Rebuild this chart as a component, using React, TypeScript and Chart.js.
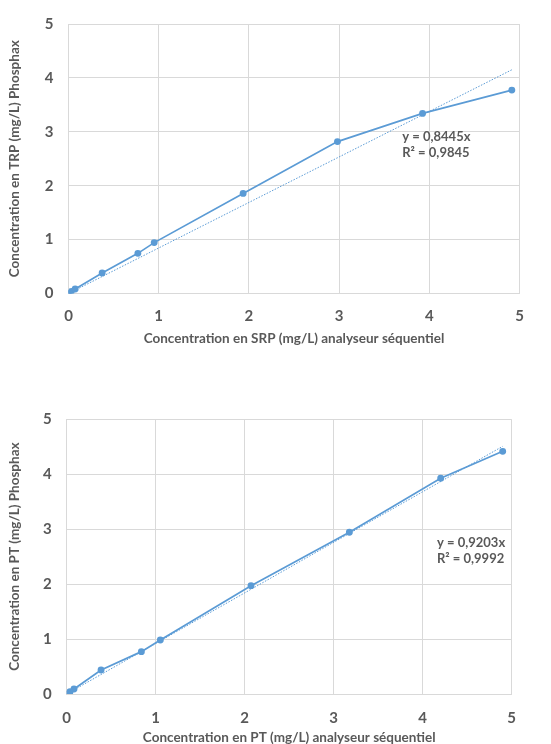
import React, { useEffect, useRef } from 'react';
import { Chart, registerables } from 'chart.js';
Chart.register(...registerables);

// Top chart: SRP (séquentiel) vs TRP (Phosphax)
const srpX = [0, 0.03, 0.074, 0.373, 0.769, 0.95, 1.936, 2.982, 3.925, 4.915];
const trpY = [0, 0.036, 0.084, 0.379, 0.745, 0.944, 1.857, 2.818, 3.341, 3.774];
const slopeTop = 0.8445;
const eqTop = ['y = 0,8445x', 'R² = 0,9845'];
const eqTopPos = [3.7, 2.91];

// Bottom chart: PT (séquentiel) vs PT (Phosphax)
const ptX = [0, 0.037, 0.082, 0.386, 0.839, 1.052, 2.071, 3.176, 4.202, 4.899];
const ptY = [0, 0.042, 0.091, 0.437, 0.771, 0.983, 1.972, 2.943, 3.926, 4.417];
const slopeBottom = 0.9203;
const eqBottom = ['y = 0,9203x', 'R² = 0,9992'];
const eqBottomPos = [4.16, 2.75];

const tickValues = [0, 1, 2, 3, 4, 5];

const BLUE = '#5B9BD5';
const TEXT = '#595959';
const GRID = '#d9d9d9';
const FONT = 'Lato, "Open Sans", sans-serif';

type Props = {
  xs: number[];
  ys: number[];
  slope: number;
  eq: string[];
  eqPos: number[];
  xTitle: string;
  yTitle: string;
  width: number;
  height: number;
  pad: { top: number; right: number; bottom: number };
  yAxisWidth: number;
  xAxisHeight: number;
  tickPad: number;
  titlePad: number;
};

function ScatterChart(p: Props) {
  const ref = useRef<HTMLCanvasElement | null>(null);
  useEffect(() => {
    if (!ref.current) return;
    const pts = p.xs.map((x, i) => ({ x, y: p.ys[i] }));
    const xMax = Math.max(...p.xs);
    const trend = [
      { x: 0, y: 0 },
      { x: xMax, y: p.slope * xMax },
    ];
    const eqPlugin = {
      id: 'eq',
      afterDatasetsDraw(chart: any) {
        const ctx = chart.ctx;
        const x = chart.scales.x.getPixelForValue(p.eqPos[0]);
        const y = chart.scales.y.getPixelForValue(p.eqPos[1]);
        ctx.save();
        ctx.font = `bold 13px ${FONT}`;
        ctx.fillStyle = TEXT;
        ctx.textAlign = 'left';
        ctx.textBaseline = 'middle';
        p.eq.forEach((t, i) => ctx.fillText(t, x, y + i * 16));
        ctx.restore();
      },
    };
    const tickFont = { family: FONT, size: 15, weight: 'bold' as const };
    const titleFont = { family: FONT, size: 13.5, weight: 'bold' as const };
    const chart = new Chart(ref.current, {
      type: 'scatter',
      data: {
        datasets: [
          {
            data: pts,
            showLine: true,
            borderColor: BLUE,
            backgroundColor: BLUE,
            borderWidth: 1.7,
            pointRadius: 2.6,
            pointHoverRadius: 2.6,
            order: 1,
          },
          {
            data: trend,
            showLine: true,
            borderColor: BLUE,
            borderWidth: 1,
            borderDash: [1.5, 1.5],
            pointRadius: 0,
            order: 2,
          },
        ],
      },
      options: {
        animation: false,
        responsive: false,
        maintainAspectRatio: false,
        layout: { padding: { left: 0, top: p.pad.top, right: p.pad.right, bottom: p.pad.bottom } },
        plugins: { legend: { display: false }, tooltip: { enabled: false } },
        scales: {
          x: {
            type: 'linear',
            min: 0,
            max: 5,
            afterBuildTicks: (s: any) => {
              s.ticks = tickValues.map((v) => ({ value: v }));
            },
            afterFit: (s: any) => {
              s.height = p.xAxisHeight;
            },
            grid: { color: GRID, drawTicks: false, lineWidth: 1 },
            border: { color: GRID },
            ticks: { font: tickFont, color: TEXT, padding: p.tickPad },
            title: { display: true, text: p.xTitle, font: titleFont, color: TEXT, padding: { top: 0, bottom: p.titlePad } },
          },
          y: {
            type: 'linear',
            min: 0,
            max: 5,
            afterBuildTicks: (s: any) => {
              s.ticks = tickValues.map((v) => ({ value: v }));
            },
            afterFit: (s: any) => {
              s.width = p.yAxisWidth;
            },
            grid: { color: GRID, drawTicks: false, lineWidth: 1 },
            border: { color: GRID },
            ticks: { font: tickFont, color: TEXT, padding: 15 },
            title: { display: true, text: p.yTitle, font: titleFont, color: TEXT, padding: { top: 7, bottom: 0 } },
          },
        },
      },
      plugins: [eqPlugin],
    });
    return () => chart.destroy();
  }, []);
  return (
    <canvas
      ref={ref}
      width={p.width}
      height={p.height}
      style={{ width: p.width, height: p.height, display: 'block' }}
    />
  );
}

export default function App() {
  return (
    <div style={{ position: 'fixed', left: 0, top: 0, width: 551, height: 744, background: '#fff', overflow: 'hidden' }}>
      <div style={{ position: 'absolute', left: 0, top: 0 }}>
        <ScatterChart
          xs={srpX}
          ys={trpY}
          slope={slopeTop}
          eq={eqTop}
          eqPos={eqTopPos}
          xTitle="Concentration en SRP (mg/L) analyseur séquentiel"
          yTitle="Concentration en TRP (mg/L) Phosphax"
          width={551}
          height={360}
          pad={{ top: 16, right: 31.5, bottom: 11.5 }}
          yAxisWidth={68.5}
          xAxisHeight={55}
          tickPad={14}
          titlePad={2}
        />
      </div>
      <div style={{ position: 'absolute', left: 0, top: 380 }}>
        <ScatterChart
          xs={ptX}
          ys={ptY}
          slope={slopeBottom}
          eq={eqBottom}
          eqPos={eqBottomPos}
          xTitle="Concentration en PT (mg/L) analyseur séquentiel"
          yTitle="Concentration en PT (mg/L) Phosphax"
          width={551}
          height={370}
          pad={{ top: 39.3, right: 39.3, bottom: 0 }}
          yAxisWidth={66.7}
          xAxisHeight={56}
          tickPad={15}
          titlePad={4}
        />
      </div>
    </div>
  );
}
